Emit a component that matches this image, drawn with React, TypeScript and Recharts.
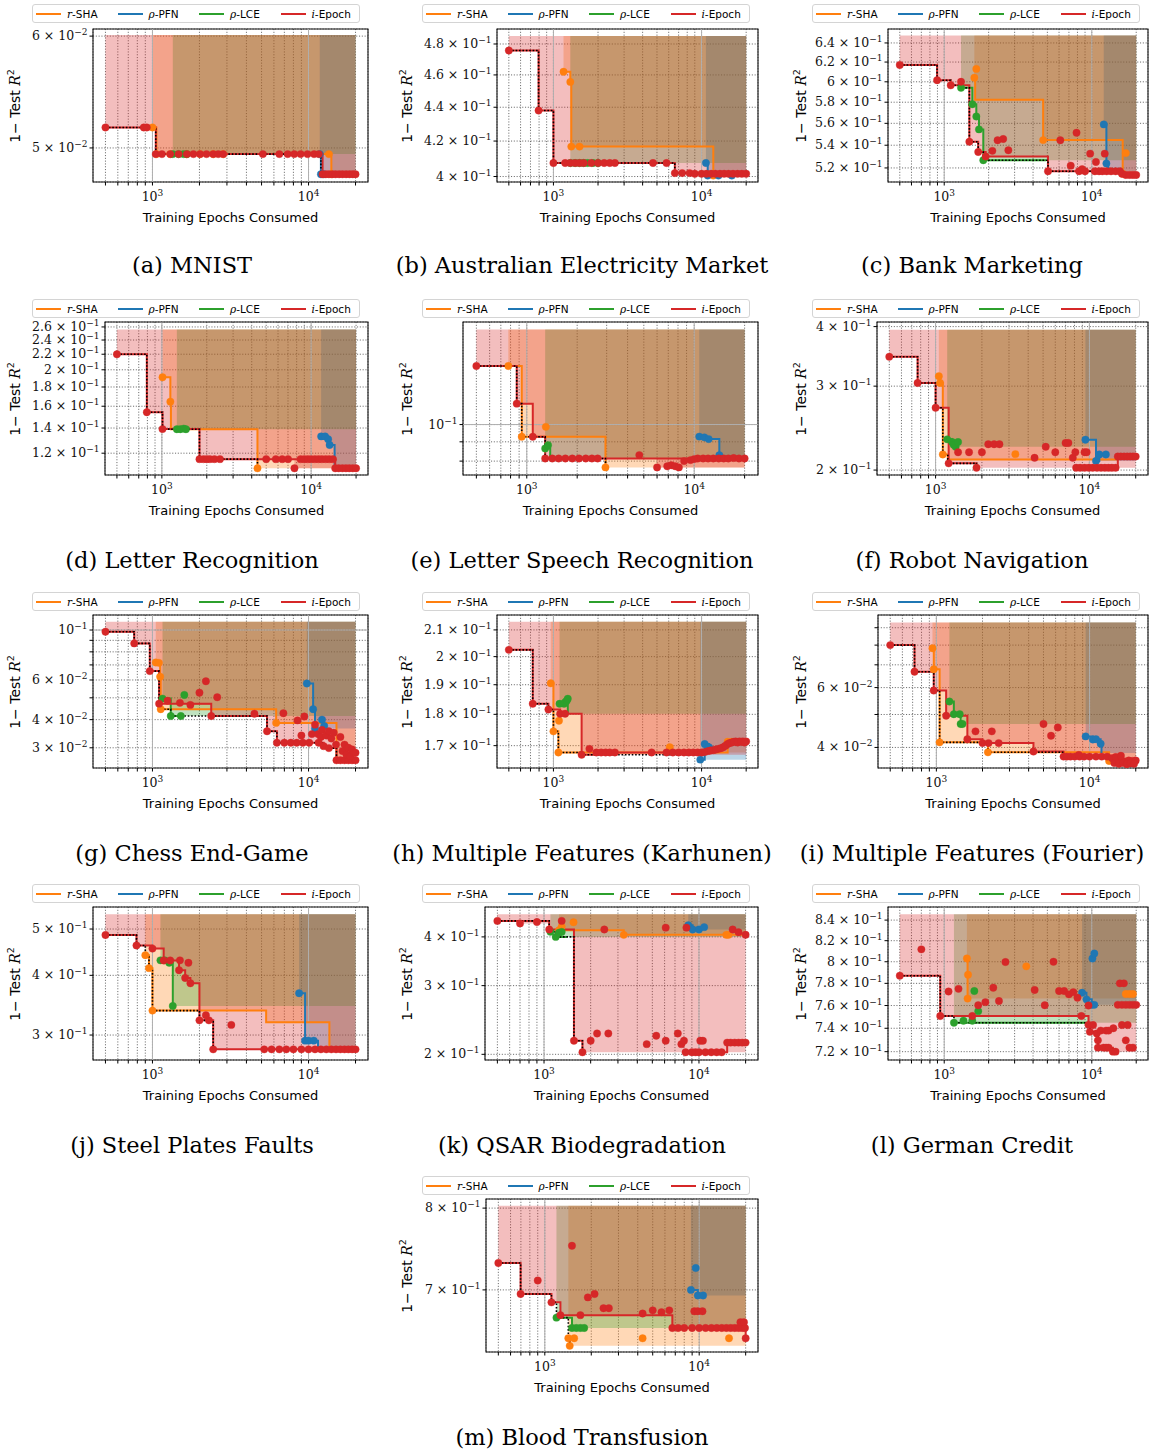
import React from 'react'
import {
  ComposedChart, XAxis, YAxis, CartesianGrid, Line, Area, Scatter,
  ReferenceLine, ReferenceArea,
} from 'recharts'

type Pt = number[] | null // [x, y] or [x, y, 0] (0 = no marker); null breaks the line
type Tick = [number, string | null] // label like '6e-2', '1e-1' (pure power) or null (grid only)

const X_LO = 416
const X_HI = 24040
const X_END = 20000
const X_TICKS = [500, 600, 700, 800, 900, 1000, 2000, 3000, 4000, 5000, 6000, 7000, 8000, 9000, 10000, 20000]
const X_MAJOR = [1000, 10000]

const METHODS = [
  { sym: 'r', rest: '-SHA', color: '#ff7f0e' },
  { sym: 'ρ', rest: '-PFN', color: '#1f77b4' },
  { sym: 'ρ', rest: '-LCE', color: '#2ca02c' },
  { sym: 'i', rest: '-Epoch', color: '#d62728' },
]

// every *Lines / *Dots list is ordered [r-SHA, ρ-PFN, ρ-LCE, i-Epoch]

// (a) MNIST
const mnistTicks: Tick[] = [[0.05, '5e-2'], [0.06, '6e-2']]
const mnistLines: Pt[][] = [
  [[1000, 0.0517], [1060, 0.0495], [1300, 0.0495], [1660, 0.0495], [2020, 0.0495], [2450, 0.0495], [2840, 0.0495], [13500, 0.0495], [14000, 0.0479]],
  [[11800, 0.0495], [12000, 0.0479], [12500, 0.0479]],
  [[1350, 0.0495], [1470, 0.0495], [1580, 0.0495], [1660, 0.0495]],
  [[500, 0.0517], [880, 0.0517], [920, 0.0517], [1050, 0.0495], [1150, 0.0495], [1300, 0.0495], [1470, 0.0495], [1660, 0.0495], [1830, 0.0495], [2020, 0.0495], [2220, 0.0495], [2450, 0.0495], [2640, 0.0495], [2840, 0.0495], [5100, 0.0495], [6500, 0.0495], [7350, 0.0495], [8100, 0.0495], [8900, 0.0495], [9850, 0.0495], [10850, 0.0495], [11650, 0.0495], [12300, 0.0479], [12900, 0.0479], [13500, 0.0479], [14200, 0.0479], [14900, 0.0479], [15700, 0.0479], [16500, 0.0479], [17400, 0.0479], [18300, 0.0479], [19200, 0.0479], [20000, 0.0479]],
]
const mnistDots: Pt[][] = [[], [], [], []]

// (b) Australian Electricity Market
const elecTicks: Tick[] = [[0.4, '4e-1'], [0.42, '4.2e-1'], [0.44, '4.4e-1'], [0.46, '4.6e-1'], [0.48, '4.8e-1']]
const elecLines: Pt[][] = [
  [[1170, 0.462], [1300, 0.4556], [1320, 0.4168], [1500, 0.4168], [11970, 0.4168, 0], [12000, 0.4005]],
  [[10700, 0.4075], [11000, 0.4005], [13000, 0.4005], [16000, 0.4005], [20000, 0.4005, 0]],
  [[1300, 0.4075], [1400, 0.4075], [1500, 0.4075], [1600, 0.4075], [1700, 0.4075], [1850, 0.4075], [2000, 0.4075]],
  [[500, 0.4757], [794, 0.438], [1000, 0.4075], [1200, 0.4075], [1300, 0.4075], [1400, 0.4075], [1500, 0.4075], [1600, 0.4075], [1800, 0.4075], [2000, 0.4075], [2200, 0.4075], [2400, 0.4075], [2600, 0.4075], [4700, 0.4075], [5800, 0.4075], [6600, 0.4019], [7400, 0.4019], [8300, 0.4019], [9000, 0.4015], [10000, 0.4015], [10800, 0.4015], [11600, 0.4015], [12400, 0.4015], [13300, 0.4015], [14200, 0.4015], [15200, 0.4015], [16300, 0.4015], [17500, 0.4015], [18700, 0.4015], [20000, 0.4015]],
]
const elecDots: Pt[][] = [[], [], [], []]

// (c) Bank Marketing
const bankTicks: Tick[] = [[0.52, '5.2e-1'], [0.54, '5.4e-1'], [0.56, '5.6e-1'], [0.58, '5.8e-1'], [0.6, '6e-1'], [0.62, '6.2e-1'], [0.64, '6.4e-1']]
const bankLines: Pt[][] = [
  [[1600, 0.604], [1620, 0.5824, 0], [4680, 0.5446], [16200, 0.515], [17500, 0.515, 0]],
  [[12050, 0.559], [12560, 0.5238], [12900, 0.517, 0], [14000, 0.517, 0]],
  [[1300, 0.594], [1550, 0.578], [1650, 0.5664], [1720, 0.5544], [1840, 0.5267], [4900, 0.5267, 0]],
  [[500, 0.617], [895, 0.6016], [1107, 0.5965], [1480, 0.5431], [1700, 0.534], [1910, 0.53], [5050, 0.5171], [8200, 0.5171], [9000, 0.5171], [10500, 0.5171], [11200, 0.5171], [11800, 0.5171], [12600, 0.5171], [13500, 0.5171], [14500, 0.5171], [15500, 0.5171], [16000, 0.515], [17000, 0.514], [18000, 0.514], [19000, 0.514], [20000, 0.514]],
]
const bankDots: Pt[][] = [
  [[1650, 0.613], [17000, 0.533]],
  [],
  [],
  [[1300, 0.6], [2120, 0.535], [2300, 0.5445], [2510, 0.5456], [2720, 0.5355], [6120, 0.5445], [7200, 0.522], [7880, 0.5513], [8600, 0.519], [9750, 0.5325], [10670, 0.5252], [12240, 0.5325]],
]

// (d) Letter Recognition
const letterTicks: Tick[] = [[0.12, '1.2e-1'], [0.14, '1.4e-1'], [0.16, '1.6e-1'], [0.18, '1.8e-1'], [0.2, '2e-1'], [0.22, '2.2e-1'], [0.24, '2.4e-1'], [0.26, '2.6e-1']]
const letterLines: Pt[][] = [
  [[1010, 0.191], [1140, 0.1645], [1150, 0.139, 0], [4370, 0.1094]],
  [[11670, 0.133], [12400, 0.133], [13000, 0.1307], [13300, 0.1262], [14360, 0.1094, 0], [20000, 0.1094, 0]],
  [[1260, 0.139], [1330, 0.139], [1400, 0.1395], [1450, 0.139]],
  [[500, 0.2199], [793, 0.1542], [1010, 0.1391], [1786, 0.1157], [1900, 0.1157], [2000, 0.1157], [2100, 0.1157], [2250, 0.1157], [2450, 0.1157], [5000, 0.1157], [5800, 0.1157], [6400, 0.1157], [7000, 0.1157], [8500, 0.1157], [9000, 0.1157], [9500, 0.1157], [10000, 0.1157], [10600, 0.1157], [11200, 0.1157], [11800, 0.1157], [12500, 0.1157], [13200, 0.1157], [14000, 0.1157], [14500, 0.1094], [15300, 0.1094], [16200, 0.1094], [17100, 0.1094], [18000, 0.1094], [19000, 0.1094], [20000, 0.1094]],
]
const letterDots: Pt[][] = [[], [], [], [[7730, 0.1094]]]

// (e) Letter Speech Recognition
const speechTicks: Tick[] = [[0.08, null], [0.09, null], [0.1, '1e-1']]
const speechLines: Pt[][] = [
  [[776, 0.1429], [933, 0.0928], [2951, 0.077]],
  [[10715, 0.0929], [11500, 0.0925], [12200, 0.0915], [14125, 0.0829], [14500, 0.0813, 0], [20000, 0.0813, 0]],
  [[1288, 0.0864], [1380, 0.0813, 0]],
  [[500, 0.1429], [871, 0.1136], [1086, 0.0928], [1288, 0.0813], [1420, 0.0813], [1550, 0.0813], [1700, 0.0813], [1870, 0.0813], [2050, 0.0813], [2250, 0.0813], [2450, 0.0813], [2650, 0.0813], [10500, 0.0813], [11300, 0.0813], [12100, 0.0813], [13000, 0.0813], [14000, 0.0813], [15000, 0.0813], [16000, 0.0813], [17200, 0.0815], [18500, 0.0813], [20000, 0.0813]],
]
const speechDots: Pt[][] = [
  [[1300, 0.0986]],
  [],
  [[1340, 0.0882]],
  [[4700, 0.083], [6000, 0.077], [6900, 0.0775], [7300, 0.078], [7700, 0.0775], [8100, 0.077], [8700, 0.08], [9500, 0.0805], [10000, 0.081]],
]

// (f) Robot Navigation
const robotTicks: Tick[] = [[0.2, '2e-1'], [0.3, '3e-1'], [0.4, '4e-1']]
const robotLines: Pt[][] = [
  [[1050, 0.3148], [1070, 0.3046], [1114, 0.2157], [1200, 0.2104, 0], [15000, 0.2135, 0]],
  [[9420, 0.2316], [11040, 0.209], [11600, 0.2157], [12800, 0.2157]],
  [[1190, 0.232], [1280, 0.2291], [1350, 0.2238], [1420, 0.2238, 0]],
  [[500, 0.3458], [764, 0.3046], [1000, 0.2702], [1216, 0.2066], [1845, 0.2022], null, [8200, 0.2022], [8700, 0.2022], [9300, 0.2022], [9900, 0.2022], [10500, 0.2022], [11200, 0.2022], [11900, 0.2022], [12600, 0.2022], [13300, 0.2022], [14000, 0.2022], [14800, 0.2022], [15300, 0.2135], [16000, 0.2135], [16800, 0.2135], [17600, 0.2135], [18400, 0.2135], [19200, 0.2135], [20000, 0.2135]],
]
const robotDots: Pt[][] = [
  [[3300, 0.216]],
  [],
  [[1310, 0.226], [1400, 0.229]],
  [[1400, 0.218], [1650, 0.218], [2000, 0.218], [2200, 0.2266], [2400, 0.2266], [2600, 0.2266], [4400, 0.2122], [5200, 0.2238], [6000, 0.218], [7000, 0.228], [7300, 0.228], [7800, 0.2122], [8100, 0.218], [9300, 0.218], [9600, 0.218]],
]

// (g) Chess End-Game
const chessTicks: Tick[] = [[0.03, '3e-2'], [0.04, '4e-2'], [0.05, null], [0.06, '6e-2'], [0.07, null], [0.08, null], [0.09, null], [0.1, '1e-1']]
const chessLines: Pt[][] = [
  [[1050, 0.0718], [1100, 0.0715], [1120, 0.062], [1130, 0.0445], [6200, 0.0387], [15100, 0.0264, 0]],
  [[9750, 0.0579], [10700, 0.0445], [11000, 0.0365]],
  [[1160, 0.0496], [1310, 0.0415], [1520, 0.0415]],
  [[500, 0.0983], [764, 0.0872], [961, 0.0657], [1103, 0.0471], [2380, 0.0415], [5420, 0.0355], [6270, 0.0316], [7000, 0.0316], [7700, 0.0316], [8400, 0.0316], [9200, 0.0316], [10100, 0.0316], [11600, 0.0316], [12500, 0.0305], [13500, 0.0299], [15100, 0.0264], [16000, 0.0264], [17000, 0.0264], [18000, 0.0264], [19000, 0.0264], [20000, 0.0264]],
]
const chessDots: Pt[][] = [
  [],
  [[12200, 0.04], [12600, 0.0375]],
  [[1600, 0.0515]],
  [[1250, 0.0485], [1500, 0.0475], [1750, 0.0465], [2000, 0.0527], [2200, 0.0592], [2600, 0.0503], [4500, 0.0425], [6900, 0.0427], [8500, 0.0397], [9400, 0.0413], [11000, 0.038], [9000, 0.034], [10500, 0.0345], [11500, 0.0345], [12000, 0.0335], [12200, 0.036], [13000, 0.034], [13500, 0.0355], [14000, 0.033], [14500, 0.035], [15000, 0.031], [16000, 0.0335], [16500, 0.029], [17000, 0.031], [17500, 0.028], [18000, 0.03], [18500, 0.0275], [19000, 0.0295], [19500, 0.0285], [20000, 0.0285]],
]

// (h) Multiple Features (Karhunen)
const karTicks: Tick[] = [[0.17, '1.7e-1'], [0.18, '1.8e-1'], [0.19, '1.9e-1'], [0.2, '2e-1'], [0.21, '2.1e-1']]
const karLines: Pt[][] = [
  [[959, 0.1905], [1000, 0.1745], [1080, 0.1679], [14000, 0.1679, 0], [15000, 0.1712]],
  [[9800, 0.1657], [10500, 0.1705], [11200, 0.1695], [12000, 0.1695, 0]],
  [[1100, 0.1835], [1180, 0.1835], [1250, 0.1802, 0]],
  [[500, 0.2025], [725, 0.1835], [925, 0.1816], [1110, 0.1802], [1200, 0.1802], [1550, 0.1672], [1950, 0.1679], [2100, 0.1679], [2250, 0.1679], [2400, 0.1679], [2600, 0.1679], [4600, 0.1679], [5800, 0.1679], [6400, 0.1679], [7000, 0.1679], [7600, 0.1679], [8200, 0.1679], [8800, 0.1679], [9400, 0.1679], [10000, 0.1679], [11000, 0.1683], [12000, 0.1686], [13000, 0.169], [14000, 0.1695], [15000, 0.1705], [16000, 0.171], [17000, 0.1713], [18000, 0.1713], [19000, 0.1713], [20000, 0.1713]],
]
const karDots: Pt[][] = [
  [[1090, 0.1779], [6100, 0.1695], [16000, 0.1712]],
  [],
  [[1200, 0.184], [1230, 0.1845], [1250, 0.1852]],
  [[1750, 0.169], [10500, 0.168], [11500, 0.1685], [12500, 0.1688], [13500, 0.1692], [14500, 0.17], [15500, 0.1708], [16500, 0.1712], [17500, 0.171], [18500, 0.1712], [19500, 0.171]],
]

// (i) Multiple Features (Fourier)
const fouTicks: Tick[] = [[0.04, '4e-2'], [0.05, null], [0.06, '6e-2'], [0.07, null], [0.08, null], [0.09, null]]
const fouLines: Pt[][] = [
  [[943, 0.0783], [962, 0.0679], [1050, 0.0414], [2170, 0.0387], [13400, 0.0365]],
  [[9420, 0.0431], [10500, 0.0422], [11000, 0.0423], [11800, 0.041], [11950, 0.0385, 0]],
  [[1216, 0.0546], [1300, 0.0501], [1420, 0.0501], [1440, 0.0469], [1480, 0.0469]],
  [[500, 0.08], [720, 0.0668], [961, 0.0588], [1158, 0.0496], [1593, 0.0423], [2000, 0.0412], [2190, 0.0412], [2550, 0.0412], [4300, 0.0389], [6760, 0.0376], [7100, 0.0376], [7500, 0.0376], [8000, 0.0376], [8600, 0.0376], [9200, 0.0376], [10000, 0.0376], [11000, 0.0376], [12000, 0.0376], [13000, 0.0376], [14000, 0.0372], [15000, 0.0368], [16000, 0.0366], [17000, 0.0364], [18000, 0.0366], [19000, 0.0365], [20000, 0.0366]],
]
const fouDots: Pt[][] = [
  [],
  [],
  [],
  [[1800, 0.0446], [2300, 0.0446], [5000, 0.0469], [5600, 0.0433], [6200, 0.0458], [8500, 0.038], [14500, 0.036], [15500, 0.0358], [16500, 0.036], [17500, 0.0357], [18500, 0.0359], [19500, 0.0358], [14800, 0.0375], [16000, 0.0378]],
]

// (j) Steel Plates Faults
const steelTicks: Tick[] = [[0.3, '3e-1'], [0.4, '4e-1'], [0.5, '5e-1']]
const steelLines: Pt[][] = [
  [[900, 0.4408], [950, 0.4141], [1000, 0.3375], [5300, 0.3375, 0], [5350, 0.319, 0], [13500, 0.319, 0], [13600, 0.28, 0]],
  [[8700, 0.367], [9500, 0.292], [10000, 0.292], [10800, 0.292], [11500, 0.28, 0]],
  [[1125, 0.43], [1200, 0.43], [1280, 0.425], [1350, 0.345]],
  [[500, 0.4857], [790, 0.462], [1000, 0.455], [1180, 0.4298], [1300, 0.4298], [1480, 0.41], [1620, 0.395], [1750, 0.385], [2000, 0.322], [2300, 0.322], [2450, 0.28], [5200, 0.28], [5800, 0.28], [6500, 0.28], [7200, 0.28], [8000, 0.28], [9000, 0.28], [10000, 0.28], [11000, 0.28], [12000, 0.28], [13000, 0.28], [14000, 0.28], [15000, 0.28], [16000, 0.28], [17000, 0.28], [18000, 0.28], [19000, 0.28], [20000, 0.28]],
]
const steelDots: Pt[][] = [[], [], [], [[1500, 0.43], [1700, 0.425], [2200, 0.33], [3200, 0.315]]]

// (k) QSAR Biodegradation
const qsarTicks: Tick[] = [[0.2, '2e-1'], [0.3, '3e-1'], [0.4, '4e-1']]
const qsarLines: Pt[][] = [
  [[1250, 0.416], [3270, 0.4048], [15000, 0.4048], [15500, 0.4048], [20000, 0.4048, 0]],
  [[8530, 0.4285], [9100, 0.418], [10000, 0.418]],
  [[1100, 0.4122], [1190, 0.4], [1400, 0.4, 0]],
  [[500, 0.4396], [1080, 0.4179], [1560, 0.2167], [1770, 0.2024], null, [8200, 0.2024], [9000, 0.2024], [9500, 0.2024], [10000, 0.2024], [11000, 0.2024], [12000, 0.2024], [13000, 0.2024], [14000, 0.2024], [15200, 0.2143], [16000, 0.2143], [17000, 0.2143], [18000, 0.2143], [19000, 0.2143], [20000, 0.2143]],
]
const qsarDots: Pt[][] = [
  [[1300, 0.425], [1550, 0.436]],
  [[10800, 0.4237]],
  [[1250, 0.41], [1300, 0.412]],
  [[700, 0.4332], [900, 0.4366], [1300, 0.4396], [2000, 0.2167], [2200, 0.2262], [2600, 0.2262], [2450, 0.4179], [4600, 0.2124], [5300, 0.2232], [6100, 0.2167], [6100, 0.4224], [7300, 0.2262], [7700, 0.2124], [8000, 0.2167], [8300, 0.4224], [10200, 0.2167], [10600, 0.2167], [16500, 0.4179], [18000, 0.4112], [20000, 0.405]],
]

// (l) German Credit
const creditTicks: Tick[] = [[0.72, '7.2e-1'], [0.74, '7.4e-1'], [0.76, '7.6e-1'], [0.78, '7.8e-1'], [0.8, '8e-1'], [0.82, '8.2e-1'], [0.84, '8.4e-1']]
const creditLines: Pt[][] = [
  [[1425, 0.8031], [1440, 0.7662]],
  [[8590, 0.7715], [9200, 0.7655], [10000, 0.7606], [10400, 0.7606]],
  [[1164, 0.7448], [1350, 0.7448, 0], [9500, 0.7448, 0]],
  [[500, 0.787], [940, 0.7507], [1550, 0.7507], [8500, 0.7507], [9500, 0.743], [9700, 0.7369], [10800, 0.7355], [11000, 0.7234], [12000, 0.7234], [12500, 0.7234], [13000, 0.7234], [13900, 0.72], [14500, 0.72], null, [15000, 0.7606], [16000, 0.7606], [17000, 0.7606], [18000, 0.7606], [19000, 0.7606], [20000, 0.7606]],
]
const creditDots: Pt[][] = [
  [[1450, 0.7879], [3600, 0.7957], [17000, 0.7703], [18000, 0.7703], [19000, 0.7703]],
  [[10100, 0.803], [10400, 0.8077]],
  [[1350, 0.7465], [1550, 0.7465], [1600, 0.773], [1700, 0.755]],
  [[700, 0.8117], [1070, 0.7726], [1250, 0.775], [1700, 0.7603], [1900, 0.763], [2150, 0.776], [2350, 0.764], [2600, 0.7997], [4100, 0.774], [4800, 0.7603], [5500, 0.8], [6000, 0.773], [6500, 0.773], [7000, 0.77], [7500, 0.772], [8000, 0.767], [9500, 0.76], [10200, 0.7428], [11000, 0.7296], [11500, 0.738], [12500, 0.738], [13000, 0.738], [14000, 0.74], [15500, 0.78], [16500, 0.78], [16000, 0.7428], [17000, 0.7296], [17500, 0.7428], [18000, 0.7234], [19000, 0.7234]],
]

// (m) Blood Transfusion
const bloodTicks: Tick[] = [[0.7, '7e-1'], [0.8, '8e-1']]
const bloodLines: Pt[][] = [
  [[1420, 0.6468], [1450, 0.6389]],
  [[8840, 0.7], [9800, 0.6937], [10600, 0.6937]],
  [[1190, 0.669], [1500, 0.6578], [1600, 0.6578], [1700, 0.6578], [1800, 0.6578]],
  [[500, 0.7314], [697, 0.6954], [1104, 0.6859], [1262, 0.6717], [1700, 0.6717], [6700, 0.6578], [7300, 0.6578], [8000, 0.6578], [9000, 0.6578], [10000, 0.6578], [11000, 0.6578], [12000, 0.6578], [13000, 0.6578], [14000, 0.6578], [15000, 0.6578], [16000, 0.6578], [17000, 0.6578], [18000, 0.6578], [19000, 0.6578], [19800, 0.6578], [20000, 0.6468]],
]
const bloodDots: Pt[][] = [
  [[1550, 0.6468], [4300, 0.6468], [15600, 0.6468]],
  [[9500, 0.7254]],
  [],
  [[900, 0.7108], [1500, 0.7523], [1900, 0.6915], [2100, 0.6954], [2400, 0.6794], [2600, 0.6794], [4300, 0.6735], [5000, 0.677], [5700, 0.675], [6400, 0.677], [9300, 0.676], [9800, 0.676], [10500, 0.676], [18500, 0.664], [19500, 0.664]],
]

interface PanelDef {
  caption: string
  row: number
  col: number
  plotLeft: number
  domain: [number, number]
  fillTop: number
  ticks: Tick[]
  major: number[]
  lines: Pt[][]
  dots: Pt[][]
}

const PANELS: PanelDef[] = [
  { caption: '(a) MNIST', row: 0, col: 0, plotLeft: 93, domain: [0.0473, 0.0607], fillTop: 0.0601, ticks: mnistTicks, major: [], lines: mnistLines, dots: mnistDots },
  { caption: '(b) Australian Electricity Market', row: 0, col: 1, plotLeft: 107, domain: [0.397, 0.49], fillTop: 0.4853, ticks: elecTicks, major: [], lines: elecLines, dots: elecDots },
  { caption: '(c) Bank Marketing', row: 0, col: 2, plotLeft: 108, domain: [0.508, 0.655], fillTop: 0.648, ticks: bankTicks, major: [], lines: bankLines, dots: bankDots },
  { caption: '(d) Letter Recognition', row: 1, col: 0, plotLeft: 105, domain: [0.105, 0.268], fillTop: 0.256, ticks: letterTicks, major: [], lines: letterLines, dots: letterDots },
  { caption: '(e) Letter Speech Recognition', row: 1, col: 1, plotLeft: 73, domain: [0.0735, 0.187], fillTop: 0.1787, ticks: speechTicks, major: [0.1], lines: speechLines, dots: speechDots },
  { caption: '(f) Robot Navigation', row: 1, col: 2, plotLeft: 97, domain: [0.1953, 0.409], fillTop: 0.3938, ticks: robotTicks, major: [], lines: robotLines, dots: robotDots },
  { caption: '(g) Chess End-Game', row: 2, col: 0, plotLeft: 93, domain: [0.0244, 0.1166], fillTop: 0.1089, ticks: chessTicks, major: [0.1], lines: chessLines, dots: chessDots },
  { caption: '(h) Multiple Features (Karhunen)', row: 2, col: 1, plotLeft: 107, domain: [0.1632, 0.2158], fillTop: 0.2132, ticks: karTicks, major: [], lines: karLines, dots: karDots },
  { caption: '(i) Multiple Features (Fourier)', row: 2, col: 2, plotLeft: 98, domain: [0.0348, 0.0981], fillTop: 0.0933, ticks: fouTicks, major: [], lines: fouLines, dots: fouDots },
  { caption: '(j) Steel Plates Faults', row: 3, col: 0, plotLeft: 93, domain: [0.266, 0.556], fillTop: 0.537, ticks: steelTicks, major: [], lines: steelLines, dots: steelDots },
  { caption: '(k) QSAR Biodegradation', row: 3, col: 1, plotLeft: 95, domain: [0.1934, 0.4772], fillTop: 0.4572, ticks: qsarTicks, major: [], lines: qsarLines, dots: qsarDots },
  { caption: '(l) German Credit', row: 3, col: 2, plotLeft: 108, domain: [0.713, 0.853], fillTop: 0.8459, ticks: creditTicks, major: [], lines: creditLines, dots: creditDots },
  { caption: '(m) Blood Transfusion', row: 4, col: 1, plotLeft: 96, domain: [0.6325, 0.812], fillTop: 0.803, ticks: bloodTicks, major: [], lines: bloodLines, dots: bloodDots },
]

const ROW_Y = [0, 295, 588, 880, 1172]
const COL_X = [0, 390, 780]
const YLAB_X = [15, 17, 21]
const PLOT_RIGHT = 368
const CHART_W = 372

const solid = (pts: Pt[]) => pts.filter((p): p is number[] => p !== null)

// split a line at its null separators
function segments(line: Pt[]) {
  const segs: number[][][] = [[]]
  for (const p of line) {
    if (p === null) segs.push([])
    else segs[segs.length - 1].push(p)
  }
  return segs.filter((s) => s.length)
}

// best-so-far band of one method, from its first evaluation to the end of the budget
function buildFill(line: Pt[], dots: Pt[], top: number) {
  const pts = solid([...line, ...dots]).map((p) => [p[0], p[1]]).sort((a, b) => a[0] - b[0])
  const out: { x: number; band: [number, number] }[] = []
  let best = Infinity
  for (const [x, y] of pts) {
    best = Math.min(best, y)
    out.push({ x, band: [best, top] })
  }
  if (pts.length) out.push({ x: X_END, band: [best, top] })
  return out
}

// overall best across methods (black dotted)
function buildOracle(lines: Pt[][]) {
  const pts = solid(lines.flat()).map((p) => [p[0], p[1]]).sort((a, b) => a[0] - b[0])
  const out: { x: number; y: number }[] = []
  let best = Infinity
  for (const [x, y] of pts) {
    if (y < best - 1e-9) {
      best = y
      out.push({ x, y })
    }
  }
  return out
}

const sup = (s: string) => s.replace('-', '−')

function YTick(props: any) {
  const { x, y, payload, labels } = props
  const lab = labels.get(payload.value)
  if (!lab) return <g />
  const [m, e] = lab.split('e')
  return (
    <text x={x} y={y} dy={4} textAnchor="end" fontFamily="DejaVu Serif" fontSize={12.5} fill="#111">
      {m === '1' ? '10' : `${m} × 10`}
      <tspan dy={-5} fontSize={9}>{sup(e)}</tspan>
    </text>
  )
}

function XTick(props: any) {
  const { x, y, payload } = props
  const v = payload.value
  if (v !== 1000 && v !== 10000) return <g />
  return (
    <text x={x} y={y} dy={13} textAnchor="middle" fontFamily="DejaVu Serif" fontSize={12.5} fill="#111">
      10<tspan dy={-5} fontSize={9}>{v === 1000 ? '3' : '4'}</tspan>
    </text>
  )
}

function LegendBox() {
  return (
    <div style={{
      position: 'absolute', left: 32, top: 4, width: 326, height: 17,
      border: '1px solid #d4d4d4', borderRadius: 3, background: 'rgba(255,255,255,0.85)',
      display: 'flex', alignItems: 'center', fontSize: 10.5, fontFamily: 'DejaVu Sans',
    }}>
      {METHODS.map((m) => (
        <div key={m.rest} style={{ width: 83, display: 'flex', alignItems: 'center' }}>
          <span style={{ display: 'inline-block', width: 25, height: 2, background: m.color, marginLeft: 3, marginRight: 6 }} />
          <span>
            <span style={{ fontFamily: 'DejaVu Serif', fontStyle: 'italic' }}>{m.sym}</span>
            {m.rest}
          </span>
        </div>
      ))}
    </div>
  )
}

function Panel({ p }: { p: PanelDef }) {
  const plotTop = p.row === 0 ? 29 : 27
  const plotBottom = p.row === 0 ? 182 : 180
  const chartH = plotBottom + 24
  const labels = new Map<number, string>()
  p.ticks.forEach(([v, l]) => { if (l) labels.set(v, l) })
  const yTickVals = p.ticks.map((t) => t[0])
  const fills = p.lines.map((l, i) => buildFill(l, p.dots[i], p.fillTop))
  const oracle = buildOracle(p.lines)
  const plotMid = (plotTop + plotBottom) / 2
  const xMid = (p.plotLeft + PLOT_RIGHT) / 2

  return (
    <div style={{ position: 'absolute', left: COL_X[p.col], top: ROW_Y[p.row], width: 380, height: 290 }}>
      <div style={{ position: 'absolute', left: 0, top: 0 }}>
        <ComposedChart width={CHART_W} height={chartH} margin={{ top: plotTop, right: CHART_W - PLOT_RIGHT, bottom: 0, left: 0 }}>
          <XAxis
            type="number" dataKey="x" scale="log" domain={[X_LO, X_HI]} allowDataOverflow
            ticks={X_TICKS} interval={0} tick={<XTick />} tickSize={3.5}
            tickLine={{ stroke: '#000' }} axisLine={false} height={chartH - plotBottom}
          />
          <YAxis
            type="number" dataKey="y" scale="log" domain={p.domain} allowDataOverflow
            ticks={yTickVals} interval={0} tick={<YTick labels={labels} />} tickSize={3.5}
            tickLine={{ stroke: '#000' }} axisLine={false} width={p.plotLeft}
          />
          {fills.map((f, i) => (
            <Area
              key={'f' + i} data={f} dataKey="band" type="stepAfter" stroke="none"
              fill={METHODS[i].color} fillOpacity={0.3} isAnimationActive={false} dot={false} activeDot={false}
            />
          ))}
          <CartesianGrid stroke="#5c5c5c" strokeDasharray="1.1 1.7" strokeWidth={0.9} />
          {X_MAJOR.map((v) => <ReferenceLine key={'xm' + v} x={v} stroke="#b0b0b0" strokeWidth={1} />)}
          {p.major.map((v) => <ReferenceLine key={'ym' + v} y={v} stroke="#b0b0b0" strokeWidth={1} />)}
          {p.lines.flatMap((l, i) => segments(l).map((seg, k) => (
            <Line
              key={'l' + i + '-' + k} data={seg.map(([x, y]) => ({ x, y }))} dataKey="y" type="stepAfter"
              stroke={METHODS[i].color} strokeWidth={2} dot={false} activeDot={false} isAnimationActive={false}
            />
          )))}
          {p.lines.map((l, i) => (
            <Scatter
              key={'s' + i}
              data={solid([...l, ...p.dots[i]]).filter((pt) => pt[2] !== 0).map(([x, y]) => ({ x, y }))}
              dataKey="y" isAnimationActive={false}
              shape={(sp: any) => <circle cx={sp.cx} cy={sp.cy} r={3.7} fill={METHODS[i].color} stroke={METHODS[i].color} strokeOpacity={0.6} strokeWidth={0.6} />}
            />
          ))}
          <Line
            data={oracle} dataKey="y" type="stepAfter" stroke="#000" strokeWidth={1.6}
            strokeDasharray="1.6 1.8" dot={false} activeDot={false} isAnimationActive={false}
          />
          <ReferenceArea x1={X_LO} x2={X_HI} y1={p.domain[0]} y2={p.domain[1]} fill="none" stroke="#111" strokeWidth={1.1} ifOverflow="visible" />
        </ComposedChart>
      </div>
      <LegendBox />
      <div style={{
        position: 'absolute', left: YLAB_X[p.col] - 70, top: plotMid - 8, width: 140, height: 16,
        lineHeight: '16px', textAlign: 'center', transform: 'rotate(-90deg)', fontFamily: 'DejaVu Sans', fontSize: 14, whiteSpace: 'nowrap',
      }}>
        1− Test <span style={{ fontFamily: 'DejaVu Serif', fontStyle: 'italic' }}>R</span>
        <span style={{ fontSize: 9.5, position: 'relative', top: -6 }}>2</span>
      </div>
      <div style={{
        position: 'absolute', left: xMid - 110, top: plotBottom + 28, width: 220, textAlign: 'center',
        fontFamily: 'DejaVu Sans', fontSize: 13, lineHeight: '16px', whiteSpace: 'nowrap',
      }}>
        Training Epochs Consumed
      </div>
      <div style={{
        position: 'absolute', left: 2, top: 251, width: 380, textAlign: 'center',
        fontFamily: 'DejaVu Serif', fontSize: 22.5, lineHeight: '28px', whiteSpace: 'nowrap',
      }}>
        {p.caption}
      </div>
    </div>
  )
}

export default function App() {
  return (
    <div style={{ position: 'absolute', left: 0, top: 0, width: 1153, height: 1453, background: '#fff', overflow: 'hidden' }}>
      {PANELS.map((p) => <Panel key={p.caption} p={p} />)}
    </div>
  )
}
